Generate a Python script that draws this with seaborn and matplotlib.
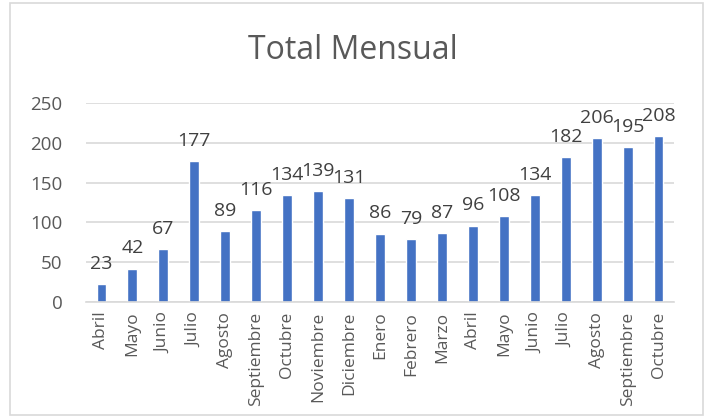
import pandas as pd
import seaborn as sns
import matplotlib.pyplot as plt
from matplotlib.patches import Rectangle

months = ["Abril", "Mayo", "Junio", "Julio", "Agosto", "Septiembre", "Octubre",
          "Noviembre", "Diciembre", "Enero", "Febrero", "Marzo", "Abril", "Mayo",
          "Junio", "Julio", "Agosto", "Septiembre", "Octubre"]
totals = [23, 42, 67, 177, 89, 116, 134, 139, 131, 86, 79, 87, 96, 108,
          134, 182, 206, 195, 208]

'''build the dataframe, months repeat so index is used for position'''
def make_df():
    df = pd.DataFrame({"pos": range(len(months)), "month": months, "total": totals})
    return df

def make_barplot():
    sns.set_theme(style="white")
    plt.rcParams['font.family'] = ['Open Sans', 'DejaVu Sans']
    text_color = "#595959"

    fig = plt.figure(figsize=(7.06, 4.17), dpi=100)
    ax = fig.add_axes([0.1218, 0.2758, 0.8329, 0.4772])

    # chart border like excel
    fig.patches.append(Rectangle((10 / 706, 2 / 417), 693 / 706, 412 / 417,
                                 transform=fig.transFigure, fill=False,
                                 edgecolor="#D9D9D9", linewidth=1.2))

    df = make_df()
    sns.barplot(x="pos", y="total", data=df, color="#4472C4", width=0.32,
                saturation=1, ax=ax)

    # data labels sit a bit higher than the bar top, excel style
    for i, v in enumerate(totals):
        ax.text(i, v + 14, str(v), ha="center", va="bottom",
                fontsize=14, color="#404040")

    ax.set_ylim(0, 250)
    ax.set_xlim(-0.5, len(months) - 0.5)
    ax.set_yticks(range(0, 251, 50))
    ax.set_xticks(range(len(months)))
    ax.set_xticklabels(months, rotation=90, fontsize=12.5)
    ax.tick_params(axis="y", length=0, labelsize=13.5, colors=text_color, pad=17)
    ax.tick_params(axis="x", length=0, colors=text_color, pad=7)
    ax.set_xlabel("")
    ax.set_ylabel("")
    ax.yaxis.grid(True, color="#D9D9D9", linewidth=1.2)
    ax.set_axisbelow(True)
    sns.despine(ax=ax, left=True, top=True, right=True)
    ax.spines["bottom"].set_color("#D9D9D9")
    ax.spines["bottom"].set_linewidth(1.2)

    fig.text(0.5, 0.88, "Total Mensual", ha="center", va="center",
             fontsize=23, color=text_color)
    fig.savefig("out.png", dpi=100)

if __name__ == "__main__":
    make_barplot()
